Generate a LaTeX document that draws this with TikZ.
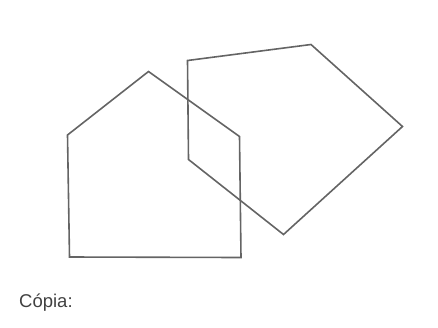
\documentclass[tikz,border=0pt]{standalone}
\usepackage{fontspec}
\setmainfont{Liberation Sans}
\usepackage{tikz}
\usetikzlibrary{positioning}
\definecolor{mygray}{RGB}{100,100,100}
\definecolor{mytext}{RGB}{65,65,65}
\tikzset{
  outline/.style={draw=mygray, line width=1.6pt, line join=miter},
  caption/.style={anchor=base west, inner sep=0pt, text=mytext,
    font=\fontsize{18.5}{22}\selectfont}
}

\begin{document}
\begin{tikzpicture}[x=1pt, y=-1pt]
  \useasboundingbox (0,0) rectangle (438,327);
  % house-shaped pentagon
  \coordinate (h1) at (67.5,135);
  \coordinate (h2) at (148.5,71.5);
  \coordinate (h3) at (239.5,136.5);
  \coordinate (h4) at (241,257.5);
  \coordinate (h5) at (69.5,257);
  \draw[outline] (h1)--(h2)--(h3)--(h4)--(h5)--cycle;
  % tilted pentagon
  \coordinate (p1) at (187.5,60.5);
  \coordinate (p2) at (311,44.5);
  \coordinate (p3) at (402.5,126.5);
  \coordinate (p4) at (283.5,234.5);
  \coordinate (p5) at (188.5,159.5);
  \draw[outline] (p1)--(p2)--(p3)--(p4)--(p5)--cycle;
  \node[caption] (cap) at (19,307) {Cópia:};
\end{tikzpicture}
\end{document}
